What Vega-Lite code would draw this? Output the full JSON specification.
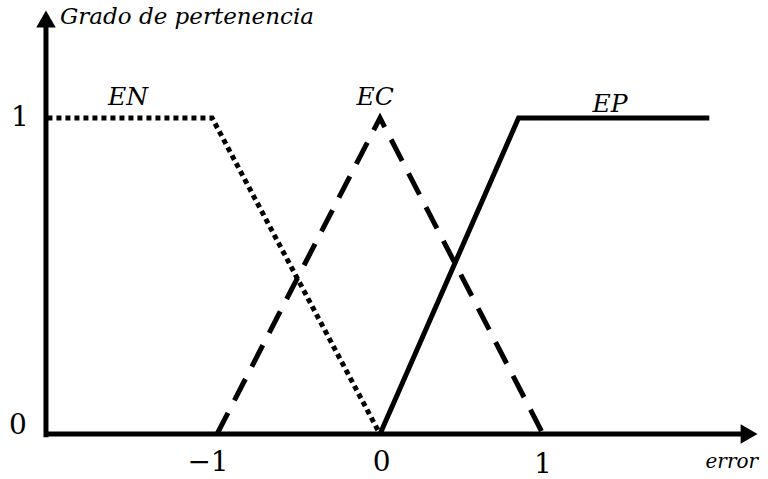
{
  "$schema": "https://vega.github.io/schema/vega-lite/v6.json",
  "width": 768,
  "height": 479,
  "autosize": {"type": "fit", "contains": "padding"},
  "padding": 0,
  "background": "white",
  "config": {"view": {"stroke": null}},
  "datasets": {
    "curves": [
      {"serie": "EN", "k": 1, "x": -2.04, "y": 1},
      {"serie": "EN", "k": 2, "x": -1.03, "y": 1},
      {"serie": "EN", "k": 3, "x": 0, "y": 0},
      {"serie": "EC", "k": 1, "x": -1, "y": 0},
      {"serie": "EC", "k": 2, "x": 0, "y": 1},
      {"serie": "EC", "k": 3, "x": 1, "y": 0},
      {"serie": "EP", "k": 1, "x": 0, "y": 0},
      {"serie": "EP", "k": 2, "x": 0.85, "y": 1},
      {"serie": "EP", "k": 3, "x": 2.02, "y": 1}
    ],
    "axes": [
      {"x": -2.049, "y": -0.01, "x2": -2.049, "y2": 1.30},
      {"x": -2.06, "y": 0, "x2": 2.27, "y2": 0}
    ],
    "arrows": [
      {"x": -2.049, "y": 1.313, "shape": "triangle-up"},
      {"x": 2.264, "y": 0, "shape": "triangle-right"}
    ],
    "labels": [
      {"t": "Grado de pertenencia", "x": -1.963, "y": 1.318, "kind": "title"},
      {"t": "1", "x": -2.209, "y": 1.0, "kind": "tick"},
      {"t": "0", "x": -2.221, "y": 0.025, "kind": "tick"},
      {"t": "−1", "x": -1.055, "y": -0.092, "kind": "tick"},
      {"t": "0", "x": 0.01, "y": -0.092, "kind": "tick"},
      {"t": "1", "x": 1.0, "y": -0.097, "kind": "tick"},
      {"t": "EN", "x": -1.546, "y": 1.066, "kind": "name"},
      {"t": "EC", "x": -0.03, "y": 1.066, "kind": "name"},
      {"t": "EP", "x": 1.411, "y": 1.044, "kind": "name"},
      {"t": "error", "x": 2.319, "y": -0.089, "kind": "xlabel"}
    ]
  },
  "encoding": {
    "x": {"field": "x", "type": "quantitative", "scale": {"domain": [-2.331, 2.38], "nice": false, "zero": false}, "axis": null},
    "y": {"field": "y", "type": "quantitative", "scale": {"domain": [-0.142, 1.373], "nice": false, "zero": false}, "axis": null}
  },
  "layer": [
    {
      "data": {"name": "axes"},
      "mark": {"type": "rule", "color": "black", "strokeWidth": 5},
      "encoding": {
        "x2": {"field": "x2"},
        "y2": {"field": "y2"}
      }
    },
    {
      "data": {"name": "arrows"},
      "mark": {"type": "point", "filled": true, "color": "black", "opacity": 1, "size": 380},
      "encoding": {
        "shape": {"field": "shape", "type": "nominal", "scale": null, "legend": null}
      }
    },
    {
      "data": {"name": "curves"},
      "mark": {"type": "line", "color": "black", "strokeWidth": 5, "strokeJoin": "miter"},
      "encoding": {
        "detail": {"field": "serie"},
        "order": {"field": "k", "type": "quantitative"},
        "strokeDash": {"field": "serie", "type": "nominal", "scale": {"domain": ["EN", "EC", "EP"], "range": [[5, 4], [24, 14], [1, 0]]}, "legend": null}
      }
    },
    {
      "data": {"name": "labels"},
      "transform": [{"filter": "datum.kind === 'title'"}],
      "mark": {"type": "text", "font": "DejaVu Serif", "fontStyle": "italic", "fontSize": 23, "align": "left", "baseline": "middle"},
      "encoding": {"text": {"field": "t"}}
    },
    {
      "data": {"name": "labels"},
      "transform": [{"filter": "datum.kind === 'tick'"}],
      "mark": {"type": "text", "font": "DejaVu Serif", "fontSize": 28, "align": "center", "baseline": "middle"},
      "encoding": {"text": {"field": "t"}}
    },
    {
      "data": {"name": "labels"},
      "transform": [{"filter": "datum.kind === 'name'"}],
      "mark": {"type": "text", "font": "DejaVu Serif", "fontStyle": "italic", "fontSize": 25, "align": "center", "baseline": "middle"},
      "encoding": {"text": {"field": "t"}}
    },
    {
      "data": {"name": "labels"},
      "transform": [{"filter": "datum.kind === 'xlabel'"}],
      "mark": {"type": "text", "font": "DejaVu Serif", "fontStyle": "italic", "fontSize": 20, "align": "right", "baseline": "middle"},
      "encoding": {"text": {"field": "t"}}
    }
  ]
}
